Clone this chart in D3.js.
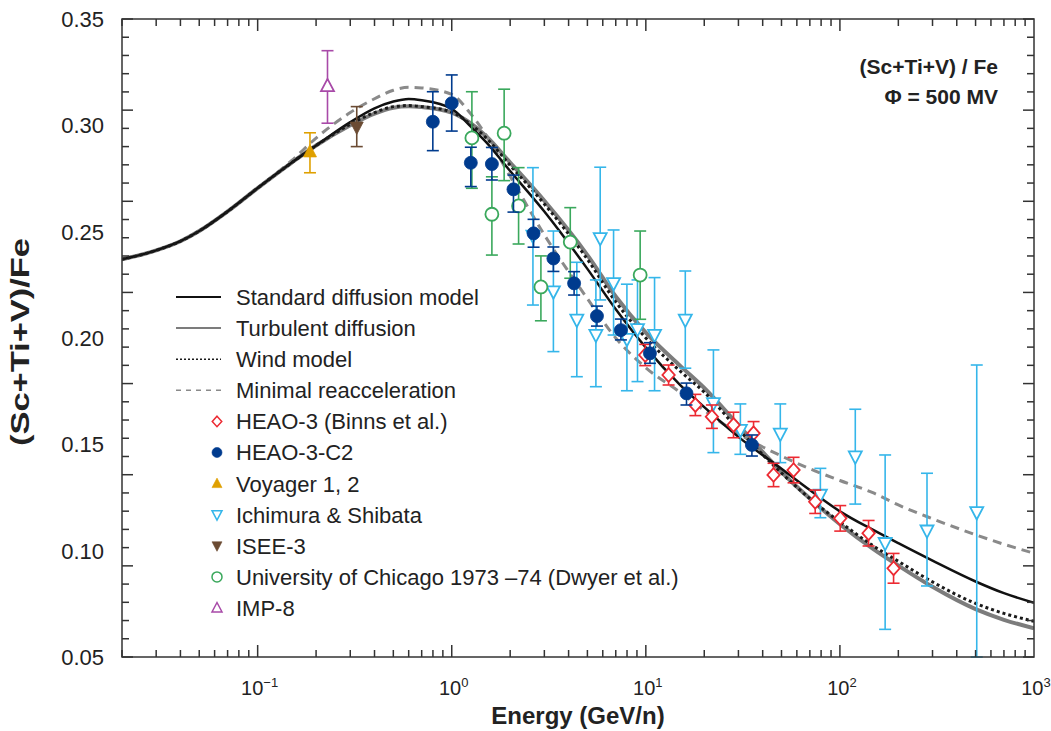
<!DOCTYPE html>
<html>
<head>
<meta charset="utf-8">
<script src="https://cdn.jsdelivr.net/npm/d3@7"></script>
<style>
  body { margin: 0; background: #fff; }
  svg { font-family: "Liberation Sans", Arial, sans-serif; }
</style>
</head>
<body>
<svg id="chart" width="1051" height="731"></svg>
<script>
// model curves (energy in GeV/n, ratio)
var modelE    = [0.02, 0.03, 0.04, 0.05, 0.07, 0.1, 0.15, 0.2, 0.3, 0.4, 0.5, 0.6, 0.7, 1.0, 1.25, 1.5, 2, 3, 5, 7, 10, 15, 20, 30, 50, 70, 100, 150, 200, 300, 500, 700, 1000];
var standard  = [0.237, 0.2412, 0.2455, 0.2503, 0.2595, 0.2705, 0.2825, 0.2905, 0.3015, 0.308, 0.3112, 0.3124, 0.3118, 0.3078, 0.2995, 0.2922, 0.2785, 0.2595, 0.2325, 0.2135, 0.1955, 0.178, 0.1675, 0.1535, 0.1385, 0.1285, 0.1185, 0.1095, 0.1035, 0.0953, 0.0855, 0.080, 0.0755];
var turbulent = [0.237, 0.2412, 0.2455, 0.2503, 0.2595, 0.2705, 0.2825, 0.2905, 0.300, 0.3055, 0.3083, 0.309, 0.3086, 0.3060, 0.3010, 0.2950, 0.2825, 0.2645, 0.2390, 0.2195, 0.2025, 0.1870, 0.1765, 0.1590, 0.1370, 0.1245, 0.1125, 0.1005, 0.0930, 0.0830, 0.0725, 0.0675, 0.0635];
var wind      = [0.237, 0.2412, 0.2455, 0.2503, 0.2595, 0.2705, 0.2825, 0.2905, 0.3005, 0.306, 0.3088, 0.3093, 0.3088, 0.3062, 0.3005, 0.2942, 0.2812, 0.2630, 0.2370, 0.2170, 0.2000, 0.1845, 0.1745, 0.1570, 0.1365, 0.1245, 0.1135, 0.1020, 0.0950, 0.0853, 0.0752, 0.0705, 0.0668];
var minimal   = [0.237, 0.2412, 0.2455, 0.2503, 0.2595, 0.2705, 0.2835, 0.294, 0.306, 0.3125, 0.3165, 0.3179, 0.3176, 0.3145, 0.3055, 0.2955, 0.276, 0.2485, 0.2185, 0.200, 0.186, 0.1745, 0.166, 0.155, 0.1445, 0.1385, 0.133, 0.127, 0.1215, 0.115, 0.1075, 0.103, 0.0988];

// measurements: energy, ratio, error bar low / high
var heaoE  = [9.93, 13.1, 18.0, 21.9, 28.3, 35.9, 45.5, 57.7, 74.6, 100.4, 140.5, 189];
var heaoV  = [0.192, 0.1826, 0.1685, 0.163, 0.1591, 0.1552, 0.1356, 0.1379, 0.123, 0.1152, 0.1082, 0.0917];
var heaoLo = [0.187, 0.1779, 0.1635, 0.1575, 0.1531, 0.1497, 0.1301, 0.1319, 0.1175, 0.1092, 0.1022, 0.0847];
var heaoHi = [0.197, 0.1873, 0.1735, 0.1685, 0.1651, 0.1607, 0.1411, 0.1439, 0.1285, 0.1212, 0.1142, 0.0987];

var c2E  = [0.799, 1.00, 1.254, 1.61, 2.08, 2.64, 3.34, 4.27, 5.60, 7.44, 10.5, 16.2, 35.2];
var c2V  = [0.3017, 0.3104, 0.2824, 0.2818, 0.2699, 0.2492, 0.2374, 0.2257, 0.2103, 0.2037, 0.1928, 0.1740, 0.1497];
var c2Lo = [0.2881, 0.2973, 0.2712, 0.2743, 0.2592, 0.2427, 0.2313, 0.2202, 0.2056, 0.1991, 0.1881, 0.1685, 0.1445];
var c2Hi = [0.3158, 0.3237, 0.2897, 0.2896, 0.2766, 0.2558, 0.2428, 0.2312, 0.2150, 0.2089, 0.1978, 0.1788, 0.1544];

var voyE = [0.186], voyV = [0.2876], voyLo = [0.2777], voyHi = [0.2965];
var iseeE = [0.324], iseeV = [0.2991], iseeLo = [0.2900], iseeHi = [0.3088];
var impE = [0.229], impV = [0.3185], impLo = [0.3010], impHi = [0.3351];

var chiE  = [1.27, 1.61, 1.862, 2.21, 2.88, 4.08, 9.35];
var chiV  = [0.2941, 0.2582, 0.2963, 0.2621, 0.2240, 0.2451, 0.2296];
var chiLo = [0.2704, 0.2390, 0.2740, 0.2442, 0.2081, 0.2281, 0.2088];
var chiHi = [0.3158, 0.2758, 0.3170, 0.2801, 0.2386, 0.2613, 0.2503];

var ichE  = [2.62, 3.34, 4.41, 5.82, 5.53, 6.82, 7.99, 9.06, 11.09, 15.97, 22.3, 30.7, 49.3, 79.3, 120, 171, 281, 507];
var ichV  = [0.2480, 0.2218, 0.2085, 0.2469, 0.2014, 0.2257, 0.1995, 0.2041, 0.2014, 0.2085, 0.1693, 0.1567, 0.1549, 0.1262, 0.1442, 0.1035, 0.1094, 0.1180];
var ichLo = [0.2155, 0.1936, 0.1818, 0.2179, 0.1771, 0.2014, 0.1752, 0.1795, 0.1752, 0.1858, 0.1461, 0.1453, 0.1414, 0.1155, 0.1219, 0.0630, 0.0834, 0.05];
var ichHi = [0.2801, 0.2503, 0.2356, 0.2803, 0.2273, 0.2508, 0.2253, 0.2273, 0.2284, 0.2315, 0.1944, 0.1690, 0.1690, 0.1387, 0.1665, 0.1450, 0.1364, 0.1873];

// axis labels
var yTickLabels = [0.05, 0.10, 0.15, 0.20, 0.25, 0.30, 0.35];
var xTickExp = [-1, 0, 1, 2, 3];

var svg = d3.select("#chart");
var x = d3.scaleLog().domain([0.02, 1000]).range([122, 1034]);
var y = d3.scaleLinear().domain([0.05, 0.35]).range([657, 19]);
var axisColor = "#333";

svg.append("clipPath").attr("id", "clip")
  .append("rect").attr("x", 122).attr("y", 19).attr("width", 912).attr("height", 638);

// model lines
var line = d3.line()
  .x(function (d) { return x(d[0]); })
  .y(function (d) { return y(d[1]); })
  .curve(d3.curveMonotoneX);

function pairs(vals) { return modelE.map(function (e, i) { return [e, vals[i]]; }); }

var models = [
  { name: "Standard diffusion model", vals: standard, color: "#111", w: 2.5, dash: null, lw: 1.8, ldash: null },
  { name: "Turbulent diffusion", vals: turbulent, color: "#7c7c7c", w: 4, dash: null, lw: 2, ldash: null },
  { name: "Wind model", vals: wind, color: "#1a1a1a", w: 3, dash: "3,3", lw: 1.5, ldash: "2,2" },
  { name: "Minimal reacceleration", vals: minimal, color: "#8a8a8a", w: 3, dash: "9,6", lw: 1.5, ldash: "5,5" }
];

var curves = svg.append("g").attr("clip-path", "url(#clip)");
[1, 3, 0, 2].forEach(function (k) {
  var m = models[k];
  curves.append("path")
    .attr("d", line(pairs(m.vals)))
    .attr("fill", "none")
    .attr("stroke", m.color)
    .attr("stroke-width", m.w)
    .attr("stroke-dasharray", m.dash);
});

// marker shapes
function markerPath(shape, s) {
  if (shape === "circle")
    return "M" + (-s) + ",0A" + s + "," + s + " 0 1,0 " + s + ",0A" + s + "," + s + " 0 1,0 " + (-s) + ",0Z";
  if (shape === "diamond")
    return "M0," + (-s * 1.05) + "L" + (s * 0.95) + ",0L0," + (s * 1.05) + "L" + (-s * 0.95) + ",0Z";
  if (shape === "up")
    return "M0," + (-s * 1.1) + "L" + s + "," + (s * 0.8) + "L" + (-s) + "," + (s * 0.8) + "Z";
  return "M0," + (s * 1.1) + "L" + s + "," + (-s * 0.8) + "L" + (-s) + "," + (-s * 0.8) + "Z";
}

var sets = [
  { name: "HEAO-3 (Binns et al.)", E: heaoE, v: heaoV, lo: heaoLo, hi: heaoHi, shape: "diamond", color: "#ec2a32", open: true },
  { name: "HEAO-3-C2", E: c2E, v: c2V, lo: c2Lo, hi: c2Hi, shape: "circle", color: "#003b8e", open: false },
  { name: "Voyager 1, 2", E: voyE, v: voyV, lo: voyLo, hi: voyHi, shape: "up", color: "#dfa000", open: false },
  { name: "Ichimura & Shibata", E: ichE, v: ichV, lo: ichLo, hi: ichHi, shape: "down", color: "#35b6ea", open: true },
  { name: "ISEE-3", E: iseeE, v: iseeV, lo: iseeLo, hi: iseeHi, shape: "down", color: "#6b4b33", open: false },
  { name: "University of Chicago 1973 \u201374 (Dwyer et al.)", E: chiE, v: chiV, lo: chiLo, hi: chiHi, shape: "circle", color: "#3aa85c", open: true },
  { name: "IMP-8", E: impE, v: impV, lo: impLo, hi: impHi, shape: "up", color: "#a84aa8", open: true }
];

var points = svg.append("g");
[3, 5, 0, 1, 2, 4, 6].forEach(function (k) {
  var s = sets[k];
  var data = s.E.map(function (e, i) { return { e: e, v: s.v[i], lo: s.lo[i], hi: s.hi[i] }; });
  var g = points.selectAll(".p" + k).data(data).enter().append("g")
    .attr("transform", function (d) { return "translate(" + x(d.e) + ",0)"; });
  g.append("line")
    .attr("y1", function (d) { return y(d.lo); })
    .attr("y2", function (d) { return y(d.hi); })
    .attr("stroke", s.color).attr("stroke-width", 1.6);
  g.append("line").attr("x1", -6).attr("x2", 6)
    .attr("y1", function (d) { return y(d.lo); }).attr("y2", function (d) { return y(d.lo); })
    .attr("stroke", s.color).attr("stroke-width", 1.6);
  g.append("line").attr("x1", -6).attr("x2", 6)
    .attr("y1", function (d) { return y(d.hi); }).attr("y2", function (d) { return y(d.hi); })
    .attr("stroke", s.color).attr("stroke-width", 1.6);
  g.append("path")
    .attr("transform", function (d) { return "translate(0," + y(d.v) + ")"; })
    .attr("d", markerPath(s.shape, 6.5))
    .attr("fill", s.open ? "#fff" : s.color)
    .attr("stroke", s.color)
    .attr("stroke-width", s.open ? 1.8 : 0.8);
});

// frame and ticks
var frame = svg.append("g").attr("stroke", axisColor).attr("stroke-width", 1.5);
frame.append("rect").attr("x", 122).attr("y", 19).attr("width", 912).attr("height", 638).attr("fill", "none");

for (var k = -2; k <= 2; k++) {
  for (var m = 1; m <= 9; m++) {
    var e = m * Math.pow(10, k);
    if (e < 0.02 || e > 1000) continue;
    var len = (m === 1) ? 12 : 7;
    frame.append("line").attr("x1", x(e)).attr("x2", x(e)).attr("y1", 657).attr("y2", 657 - len);
    frame.append("line").attr("x1", x(e)).attr("x2", x(e)).attr("y1", 19).attr("y2", 19 + len);
  }
}
for (var i = 0; i <= 35; i++) {
  var v = 0.05 + i * 0.3 / 35;
  var tl = (i % 5 === 0) ? 11 : 7;
  frame.append("line").attr("x1", 122).attr("x2", 122 + tl).attr("y1", y(v)).attr("y2", y(v));
  frame.append("line").attr("x1", 1034).attr("x2", 1034 - tl).attr("y1", y(v)).attr("y2", y(v));
}

// tick labels
svg.selectAll(".ylab").data(yTickLabels).enter().append("text")
  .attr("x", 104).attr("y", function (d) { return y(d); })
  .attr("dy", "0.36em").attr("text-anchor", "end")
  .attr("font-size", 22).attr("fill", "#222")
  .text(function (d) { return d.toFixed(2); });

var xl = svg.selectAll(".xlab").data(xTickExp).enter().append("text")
  .attr("x", function (d) { return x(Math.pow(10, d)) + 2; }).attr("y", 695)
  .attr("text-anchor", "middle").attr("font-size", 20).attr("fill", "#222");
xl.append("tspan").text("10");
xl.append("tspan").attr("dy", -8).attr("font-size", 13)
  .text(function (d) { return d < 0 ? "\u2212" + (-d) : d; });

// axis titles
svg.append("text").attr("x", 578).attr("y", 724).attr("text-anchor", "middle")
  .attr("font-size", 24).attr("font-weight", "bold").attr("fill", "#222")
  .text("Energy (GeV/n)");
svg.append("text").attr("transform", "translate(29,342) rotate(-90)").attr("text-anchor", "middle")
  .attr("font-size", 25).attr("font-weight", "bold").attr("fill", "#222")
  .attr("textLength", 208).attr("lengthAdjust", "spacingAndGlyphs")
  .text("(Sc+Ti+V)/Fe");

// annotation
svg.append("text").attr("x", 998).attr("y", 74).attr("text-anchor", "end")
  .attr("font-size", 21).attr("font-weight", "bold").attr("fill", "#222")
  .text("(Sc+Ti+V) / Fe");
svg.append("text").attr("x", 998).attr("y", 104).attr("text-anchor", "end")
  .attr("font-size", 21).attr("font-weight", "bold").attr("fill", "#222")
  .text("\u03A6 = 500 MV");

// legend
var legend = svg.append("g");
var rowH = 31.1, row0 = 297;
models.forEach(function (m, i) {
  var yy = row0 + i * rowH;
  legend.append("line").attr("x1", 176).attr("x2", 221).attr("y1", yy).attr("y2", yy)
    .attr("stroke", m.color).attr("stroke-width", m.lw).attr("stroke-dasharray", m.ldash);
  legend.append("text").attr("x", 236).attr("y", yy).attr("dy", "0.36em")
    .attr("font-size", 22).attr("fill", "#222").text(m.name);
});
sets.forEach(function (s, i) {
  var yy = row0 + (i + 4) * rowH;
  legend.append("path").attr("transform", "translate(217," + yy + ")")
    .attr("d", markerPath(s.shape, 5))
    .attr("fill", s.open ? "#fff" : s.color)
    .attr("stroke", s.color).attr("stroke-width", s.open ? 1.5 : 0.6);
  legend.append("text").attr("x", 236).attr("y", yy).attr("dy", "0.36em")
    .attr("font-size", 22).attr("fill", "#222").text(s.name);
});
</script>
</body>
</html>
